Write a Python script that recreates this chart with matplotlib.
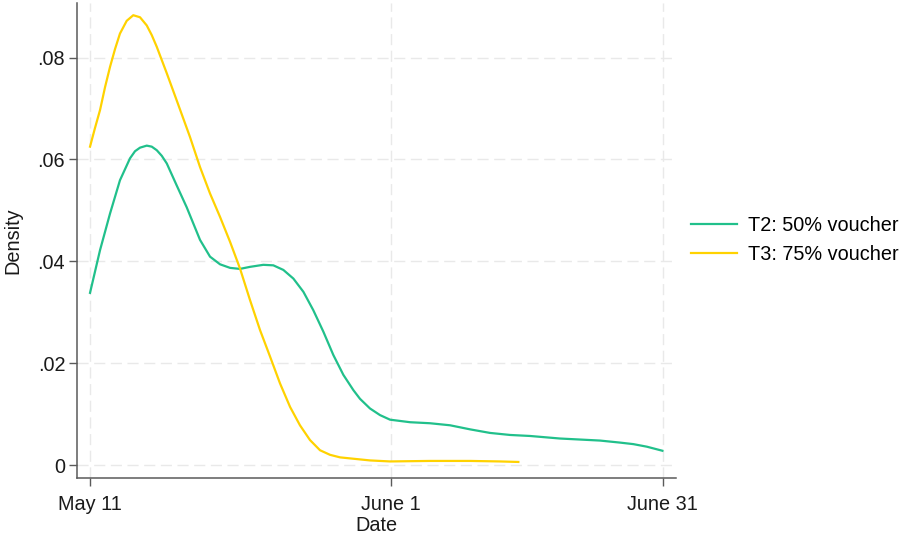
import matplotlib
matplotlib.use("Agg")
import matplotlib.pyplot as plt

plt.rcParams['font.family'] = ['Liberation Sans', 'DejaVu Sans']

# Days since May 11 and kernel density values
t2_days = [0.0, 0.70, 1.40, 2.09, 2.79, 3.14, 3.49, 3.96, 4.31, 4.66, 5.01, 5.36,
           6.05, 6.75, 7.68, 8.38, 9.08, 9.78, 10.47, 11.17, 12.10, 12.80, 13.50,
           14.20, 14.90, 15.59, 16.29, 16.99, 17.69, 18.39, 18.85, 19.55, 20.25,
           20.95, 22.35, 23.74, 25.14, 26.54, 27.93, 29.33, 30.73, 32.82, 34.22,
           35.61, 37.01, 37.94, 38.88, 39.97]
t2_density = [0.0338, 0.0422, 0.0494, 0.0559, 0.0602, 0.0616, 0.0623, 0.0627, 0.0625,
              0.0618, 0.0607, 0.0592, 0.0549, 0.0506, 0.0442, 0.0409, 0.0394, 0.0387,
              0.0385, 0.0389, 0.0393, 0.0392, 0.0383, 0.0366, 0.0340, 0.0304, 0.0262,
              0.0216, 0.0177, 0.0147, 0.0130, 0.0111, 0.0098, 0.0089, 0.0084, 0.0082,
              0.0078, 0.0070, 0.0063, 0.0059, 0.0057, 0.0052, 0.0050, 0.0048, 0.0044,
              0.0041, 0.0036, 0.0028]

t3_days = [0.0, 0.35, 0.70, 1.05, 1.40, 1.75, 2.09, 2.56, 3.02, 3.49, 3.96, 4.31,
           4.66, 5.36, 6.05, 6.98, 7.68, 8.38, 9.08, 9.78, 10.47, 11.17, 11.87, 12.57,
           13.27, 13.97, 14.66, 15.36, 16.06, 16.76, 17.46, 18.85, 19.55, 20.95, 23.74,
           26.54, 28.63, 29.91]
t3_density = [0.0625, 0.0662, 0.0697, 0.0742, 0.0782, 0.0817, 0.0847, 0.0872, 0.0883,
              0.0879, 0.0863, 0.0844, 0.0821, 0.0769, 0.0716, 0.0644, 0.0585, 0.0533,
              0.0487, 0.0438, 0.0386, 0.0324, 0.0265, 0.0213, 0.0160, 0.0114, 0.0078,
              0.0049, 0.0029, 0.0020, 0.0015, 0.0011, 0.0009, 0.0007, 0.0008, 0.0008,
              0.0007, 0.0006]

labels = ["T2: 50% voucher", "T3: 75% voucher"]
x_ticks = [0, 21, 40]
x_ticklabels = ["May 11", "June 1", "June 31"]
y_ticks = [0, 0.02, 0.04, 0.06, 0.08]
y_ticklabels = ["0", ".02", ".04", ".06", ".08"]

W, H = 902, 535
fig = plt.figure(figsize=(W / 100, H / 100), dpi=100)
ax = fig.add_axes([77 / W, (H - 478) / H, (676 - 77) / W, (478 - 3) / H])

green = '#21c08b'
yellow = '#ffd200'
ax.plot(t2_days, t2_density, color=green, lw=1.6, label=labels[0], zorder=3,
        solid_joinstyle='round')
ax.plot(t3_days, t3_density, color=yellow, lw=1.6, label=labels[1], zorder=3,
        solid_joinstyle='round')

ax.set_xlim(-0.91, 40.92)
ax.set_ylim(-0.00255, 0.0907)
ax.set_xticks(x_ticks)
ax.set_xticklabels(x_ticklabels)
ax.set_yticks(y_ticks)
ax.set_yticklabels(y_ticklabels)

for s in ['top', 'right']:
    ax.spines[s].set_visible(False)
for s in ['left', 'bottom']:
    ax.spines[s].set_color('#5a5a5a')
    ax.spines[s].set_linewidth(1.1)

fs = 14.3
ax.tick_params(axis='both', direction='out', length=5.5, width=1.0, color='#5a5a5a',
               labelsize=fs, labelcolor='#1a1a1a')
ax.tick_params(axis='y', pad=3)
ax.tick_params(axis='x', pad=7)

ax.grid(True, color='#e9e9e9', linewidth=1.0, linestyle=(0, (8, 4)), zorder=0)
ax.set_axisbelow(True)

ax.set_xlabel("Date", fontsize=fs, color='#1a1a1a', labelpad=1.5)
ax.set_ylabel("Density", fontsize=fs, color='#1a1a1a', labelpad=11)

fig.legend(loc='center left', bbox_to_anchor=(691 / W, 1 - 240 / H), frameon=False,
           fontsize=fs, handlelength=2.3, handletextpad=0.55, labelspacing=0.5,
           borderpad=0, borderaxespad=0)

fig.savefig("out.png", dpi=100)
